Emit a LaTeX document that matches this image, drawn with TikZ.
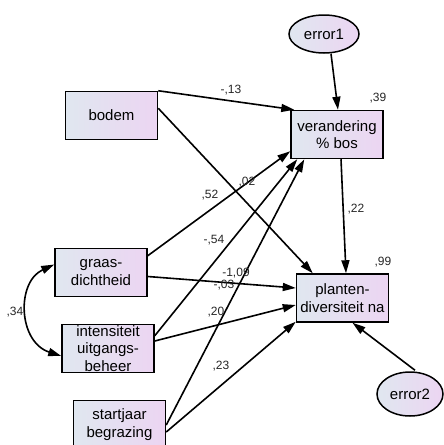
\documentclass[tikz,border=0pt]{standalone}
\usepackage{fontspec}
\setmainfont{Liberation Sans}
\usetikzlibrary{arrows.meta,shapes.geometric}
\definecolor{cleft}{RGB}{224,231,240}
\definecolor{cright}{RGB}{236,213,242}
\tikzset{
  varbox/.style={draw, line width=1.5pt, minimum width=92pt, minimum height=48pt,
    inner sep=0pt, align=center, left color=cleft, right color=cright,
    font=\fontsize{15}{17.5}\selectfont},
  errell/.style={ellipse, draw, line width=1.5pt, inner sep=0pt,
    left color=cleft, right color=cright, font=\fontsize{15}{17.5}\selectfont},
  path/.style={line width=1.6pt, -{Triangle[length=13pt,width=8pt]}},
  coef/.style={font=\fontsize{12}{14}\selectfont, inner sep=0pt, text=black!85}
}
\begin{document}
\begin{tikzpicture}[x=1pt,y=-1pt]
\useasboundingbox (0,0) rectangle (444,445);
% nodes
\node[varbox] (bodem) at (111.5,115.5) {bodem};
\node[varbox] (ver) at (337,134.5) {verandering\\\% bos};
\node[varbox] (pla) at (342.5,298) {planten-\\diversiteit na};
\node[varbox] (graas) at (101,272.5) {graas-\\dichtheid};
\node[varbox] (int) at (108,348.5) {intensiteit\\uitgangs-\\beheer};
\node[varbox] (start) at (119.5,424.5) {startjaar\\begrazing};
\node[errell, minimum width=70pt, minimum height=38pt] (e1) at (324,34) {error1};
\node[errell, minimum width=66pt, minimum height=44pt] (e2) at (410,394) {error2};
% connectors
\draw[path] (bodem.north east) -- ([xshift=4pt]ver.north west);
\draw[path] ([yshift=-17.5pt]bodem.north east) -- ([xshift=17pt]pla.north west);
\draw[path] ([xshift=7pt]e1.south) -- ([xshift=1pt]ver.north);
\draw[path] ([xshift=4pt]ver.south) -- ([xshift=3.5pt]pla.north);
\draw[path] ([xshift=5pt,yshift=1pt]e2.north) -- ([xshift=10pt]pla.south);
\draw[path] ([yshift=-8pt]graas.north east) -- ([yshift=8pt]ver.south west);
\draw[path] ([yshift=-4pt]graas.east) -- ([yshift=10pt]pla.west);
\draw[path] ([yshift=-12pt]int.north east) -- ([xshift=7pt]ver.south west);
\draw[path] ([yshift=7.5pt]int.east) -- ([yshift=-7pt]pla.west);
\draw[path] ([yshift=-0.5pt]start.east) -- ([xshift=14pt]ver.south west);
\draw[path] ([yshift=-7.5pt]start.east) -- ([yshift=1pt]pla.south west);
\draw[line width=1.6pt, {Triangle[length=13pt,width=8pt]}-{Triangle[length=13pt,width=8pt]}]
  ([yshift=8pt]graas.west) .. controls (16,282) and (18,342) .. ([yshift=-7.5pt]int.west);
% coefficients
\node[coef] (c1) at (231,90) {-,13};
\node[coef] (c2) at (378,98) {,39};
\node[coef] (c3) at (247,182) {,02};
\node[coef] (c4) at (210,195) {,52};
\node[coef] (c5) at (214,240) {-,54};
\node[coef] (c6) at (236,273) {-1,09};
\node[coef] (c7) at (224,285) {-,03};
\node[coef] (c8) at (216,312) {,20};
\node[coef] (c9) at (221,366) {,23};
\node[coef] (c10) at (356,209) {,22};
\node[coef] (c11) at (383,262) {,99};
\node[coef] (c12) at (15,312) {,34};
\end{tikzpicture}
\end{document}
